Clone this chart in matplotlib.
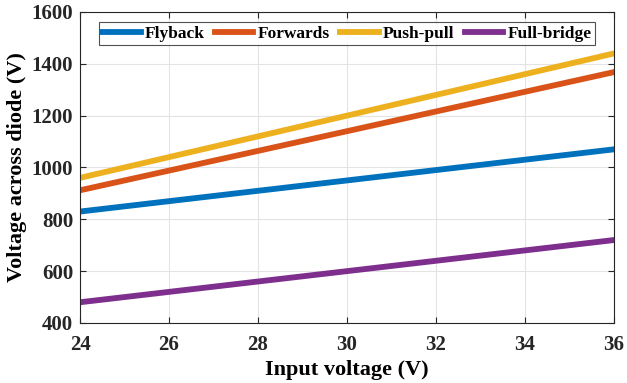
import matplotlib.pyplot as plt

# datos
vin = [24, 26, 28, 30, 32, 34, 36]
flyback = [830, 870, 910, 950, 990, 1030, 1070]
forwards = [912, 988, 1064, 1140, 1216, 1292, 1368]
pushpull = [960, 1040, 1120, 1200, 1280, 1360, 1440]
fullbridge = [480, 520, 560, 600, 640, 680, 720]

plt.rcParams['font.family'] = ['Liberation Serif', 'DejaVu Serif']
plt.rcParams['font.weight'] = 'bold'

fig = plt.figure(figsize=(6.27, 3.83), dpi=100)
ax = fig.add_axes([0.1276, 0.1567, 0.8514, 0.812])

lw = 4.2
ax.plot(vin, flyback, color="#0072BD", lw=lw, label="Flyback")
ax.plot(vin, forwards, color="#D95319", lw=lw, label="Forwards")
ax.plot(vin, pushpull, color="#EDB120", lw=lw, label="Push-pull")
ax.plot(vin, fullbridge, color="#7E2F8E", lw=lw, label="Full-bridge")

ax.set_xlim(24, 36)
ax.set_ylim(400, 1600)
ax.set_xticks(vin)
ax.set_yticks(range(400, 1601, 200))
ax.grid(True, color="#e3e3e3", lw=0.8)
ax.tick_params(direction='in', top=True, right=True, labelsize=15, colors="#262626", length=4)
ax.tick_params(axis='x', pad=9)
ax.tick_params(axis='y', pad=5)
for lab in ax.get_xticklabels() + ax.get_yticklabels():
    lab.set_fontweight('bold')
for s in ax.spines.values():
    s.set_color("#262626")
    s.set_linewidth(0.8)

ax.set_xlabel("Input voltage (V)", fontsize=16, fontweight='bold', labelpad=3)
ax.set_ylabel("Voltage across diode (V)", fontsize=16, fontweight='bold', labelpad=3)

leg = ax.legend(loc='upper center', ncol=4, fontsize=12.5, frameon=True, fancybox=False,
                edgecolor="#262626", handlelength=2.2, handletextpad=0.25, columnspacing=0.6,
                borderpad=0.2, bbox_to_anchor=(0.5, 0.995))
leg.get_frame().set_linewidth(0.8)
for t in leg.get_texts():
    t.set_fontweight('bold')

fig.savefig("out.png", dpi=100)
